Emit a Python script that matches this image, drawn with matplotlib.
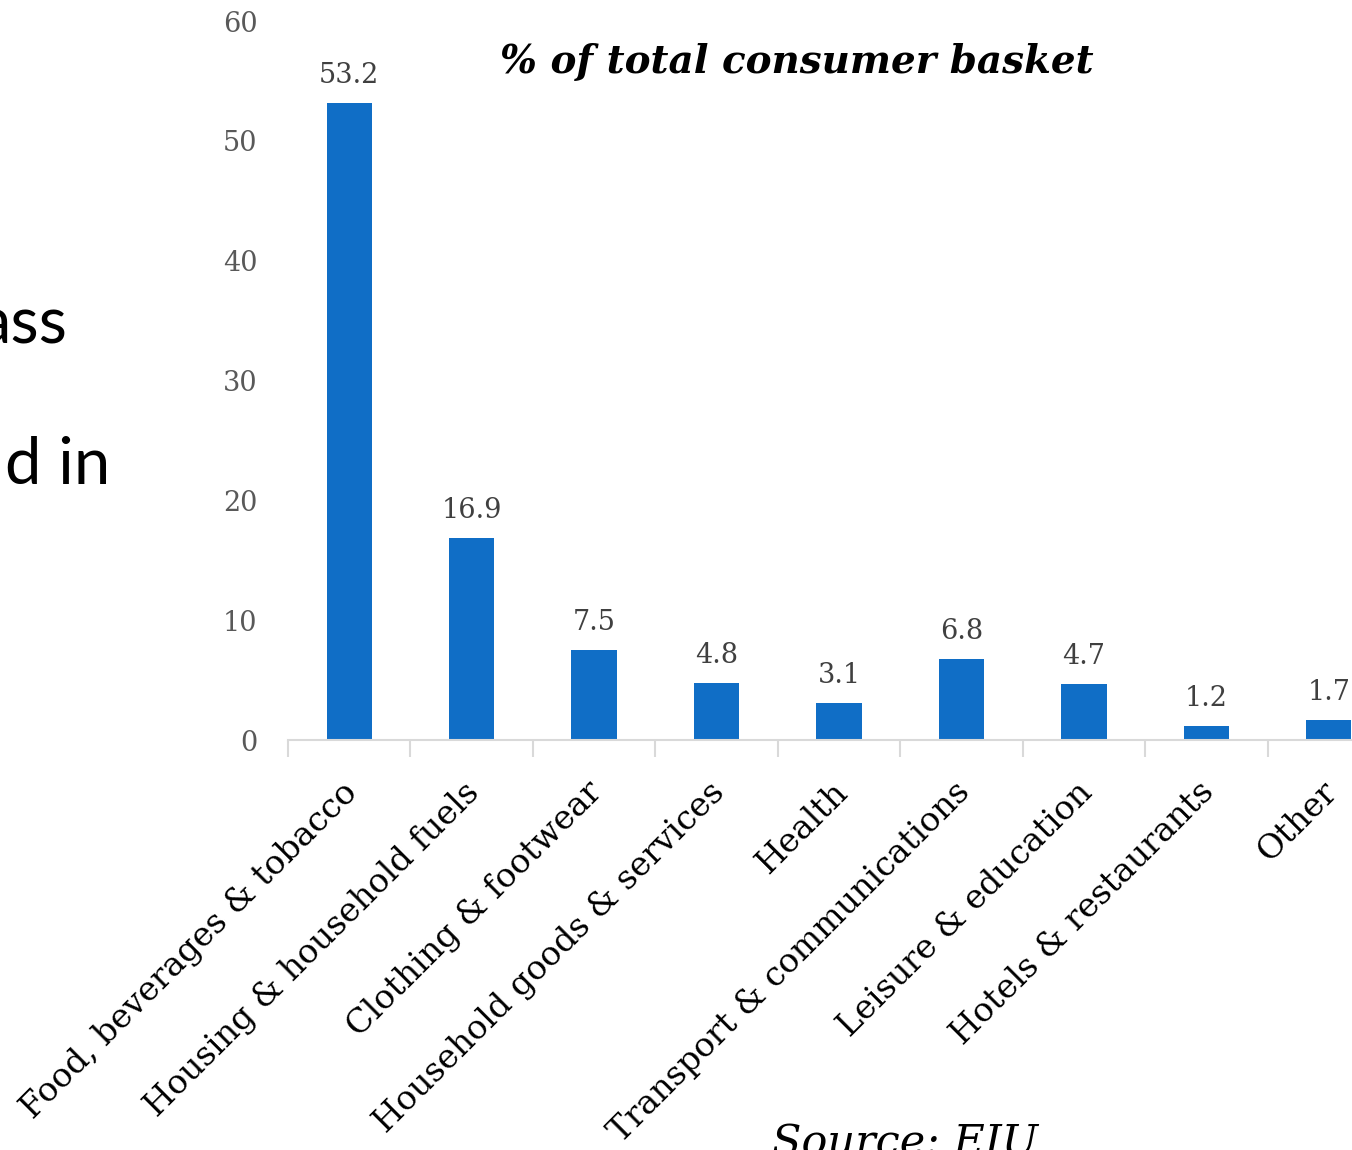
import matplotlib.pyplot as plt
import matplotlib.transforms as mtrans
import numpy as np

categories = ['Food, beverages & tobacco', 'Housing & household fuels', 'Clothing & footwear',
              'Household goods & services', 'Health', 'Transport & communications',
              'Leisure & education', 'Hotels & restaurants', 'Other']
shares = [53.2, 16.9, 7.5, 4.8, 3.1, 6.8, 4.7, 1.2, 1.7]
y_ticks = [0, 10, 20, 30, 40, 50, 60]

BAR = '#106EC6'
SERIF = 'DejaVu Serif'

fig = plt.figure(figsize=(13.52, 11.5), dpi=100)
# axes run off the right edge, the last category is partly cut
ax = fig.add_axes([0.2130, 0.3565, 0.8151, 0.6252])

x = np.arange(len(categories))
bars = ax.bar(x, shares, width=0.37, color=BAR)

for xi, v in zip(x, shares):
    ax.annotate(f'{v:.1f}', (xi, v), xytext=(0, 10), textcoords='offset points',
                ha='center', va='bottom', fontsize=19.5, family=SERIF, color='#404040')

ax.set_xlim(-0.5, len(categories) - 0.5)
ax.set_ylim(0, 60)
ax.set_yticks(y_ticks)
ax.set_yticklabels([str(t) for t in y_ticks], family=SERIF, fontsize=19.5, color='#595959')
ax.tick_params(axis='y', length=0, pad=22)

ax.set_xticks(x)
ax.set_xticklabels(categories, rotation=45, ha='right', va='top', rotation_mode='anchor',
                   family=SERIF, fontsize=24, color='black')
ax.tick_params(axis='x', which='major', length=0, pad=26)
# nudge the slanted labels a little to the left
shift = mtrans.ScaledTranslation(-8 / 100, 0, fig.dpi_scale_trans)
for lbl in ax.get_xticklabels():
    lbl.set_transform(lbl.get_transform() + shift)
ax.set_xticks(np.arange(len(categories) + 1) - 0.5, minor=True)
ax.tick_params(axis='x', which='minor', length=12, width=1.5, color='#D9D9D9')

for s in ['top', 'right', 'left']:
    ax.spines[s].set_visible(False)
ax.spines['bottom'].set_color('#D9D9D9')
ax.spines['bottom'].set_linewidth(1.5)

fig.text(797 / 1352, 1 - 62 / 1150, '% of total consumer basket', ha='center', va='center',
         family=SERIF, fontsize=28, fontweight='bold', fontstyle='italic')

# slide text sitting left of the chart
fig.text(68 / 1352, 1 - 325 / 1150, 'ass', ha='right', va='center', family='Lato', fontsize=47)
fig.text(110 / 1352, 1 - 465 / 1150, 'd in', ha='right', va='center', family='Lato', fontsize=47)

# source line sits at the bottom edge, half cut
fig.text(905 / 1352, -5 / 1150, 'Source: EIU', ha='center', va='baseline',
         family=SERIF, fontsize=31, fontstyle='italic')

fig.savefig('out.png', dpi=100)
